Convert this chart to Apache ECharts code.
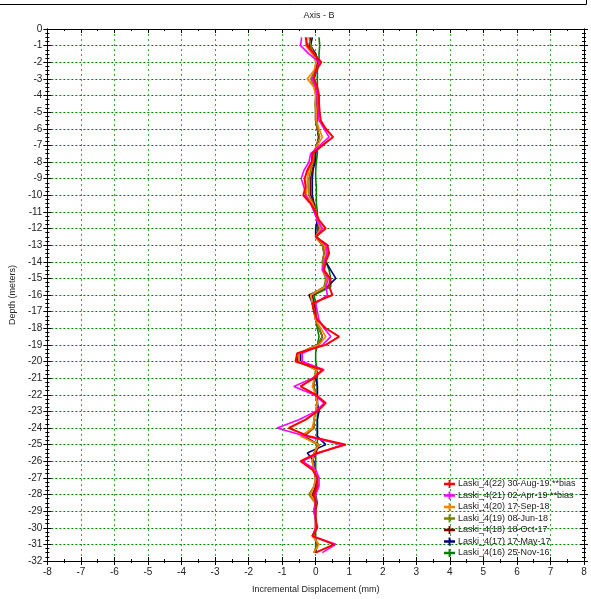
<!DOCTYPE html>
<html>
<head>
<meta charset="utf-8">
<script src="https://cdn.jsdelivr.net/npm/echarts@6/dist/echarts.min.js"></script>
<style>html,body{margin:0;padding:0;background:#fff}#c{width:591px;height:599px}</style>
</head>
<body>
<div id="c"></div>
<script>
var depths = [-0.5,-1,-1.5,-2,-2.5,-3,-3.5,-4,-4.5,-5,-5.5,-6,-6.5,-7,-7.5,-8,-8.5,-9,-9.5,-10,-10.5,-11,-11.5,-12,-12.5,-13,-13.5,-14,-14.5,-15,-15.5,-16,-16.5,-17,-17.5,-18,-18.5,-19,-19.5,-20,-20.5,-21,-21.5,-22,-22.5,-23,-23.5,-24,-24.5,-25,-25.5,-26,-26.5,-27,-27.5,-28,-28.5,-29,-29.5,-30,-30.5,-31,-31.5];

var seriesNames = ["Laski_4(22) 30-Aug-19 **bias","Laski_4(21) 02-Apr-19 **bias","Laski_4(20) 17-Sep-18","Laski_4(19) 08-Jun-18","Laski_4(18) 18-Oct-17","Laski_4(17) 17-May-17","Laski_4(16) 25-Nov-16"];
var seriesColors = ["#ff0000","#ff00ff","#ff8000","#808000","#800000","#000080","#008000"];

var s22 = [-0.3,-0.25,-0.05,0.17,0.0,-0.05,0.05,0.1,0.1,0.12,0.15,0.3,0.52,0.2,-0.1,-0.12,-0.25,-0.33,-0.3,-0.37,-0.15,0.0,0.1,0.3,0.0,0.35,0.4,0.3,0.25,0.43,0.4,0.5,-0.1,-0.05,0.05,0.3,0.7,0.3,-0.55,-0.6,0.2,-0.05,-0.45,0.0,0.3,0.05,-0.3,-0.8,-0.2,0.9,0.05,-0.45,-0.1,0.05,0.05,-0.05,0.0,0.0,0.0,0.05,-0.1,0.55,0.0];
var s21 = [-0.42,-0.45,-0.2,0.1,0.02,-0.1,0.0,0.05,0.05,0.08,0.1,0.25,0.4,0.12,-0.15,-0.2,-0.35,-0.43,-0.35,-0.3,-0.15,-0.05,0.05,0.2,0.02,0.3,0.35,0.25,0.2,0.38,0.3,0.35,0.0,0.05,0.1,0.25,0.45,0.2,-0.4,-0.4,0.25,-0.1,-0.65,-0.05,0.25,0.0,-0.5,-1.15,-0.3,0.8,0.1,-0.4,0.0,0.1,0.1,0.0,0.0,-0.05,0.0,0.0,-0.1,0.6,0.2];
var s20 = [-0.25,-0.3,-0.1,0.02,-0.05,-0.25,-0.05,0.0,0.0,0.02,0.02,0.1,0.2,0.05,-0.1,-0.1,-0.2,-0.25,-0.25,-0.28,-0.1,0.0,0.05,0.15,0.0,0.25,0.3,0.25,0.2,0.35,0.3,-0.15,-0.1,-0.05,0.0,0.15,0.3,0.1,-0.5,-0.5,0.05,-0.05,-0.1,0.0,0.05,0.0,-0.05,-0.1,-0.45,0.1,-0.05,-0.1,-0.05,0.0,-0.05,-0.15,0.0,-0.05,0.0,0.0,-0.1,0.1,-0.05];
var s19 = [-0.2,-0.15,-0.05,0.0,-0.02,-0.15,-0.05,0.0,-0.02,0.0,0.0,0.05,0.12,0.02,-0.05,-0.08,-0.15,-0.2,-0.2,-0.2,-0.08,0.0,0.05,0.12,0.0,0.2,0.25,0.2,0.2,0.3,0.25,-0.15,-0.1,-0.05,0.0,0.1,0.2,0.05,-0.5,-0.5,0.0,-0.05,-0.05,0.0,0.05,0.0,-0.05,-0.05,-0.4,0.05,-0.05,-0.1,-0.05,0.0,-0.05,-0.2,-0.02,-0.05,0.0,0.0,-0.05,0.05,-0.05];
var s18 = [-0.15,-0.2,0.0,0.05,0.0,-0.1,0.0,0.02,0.0,0.0,0.0,0.05,0.1,0.02,-0.05,-0.05,-0.1,-0.15,-0.15,-0.15,-0.05,0.0,0.05,0.1,0.0,0.2,0.25,0.2,0.25,0.35,0.3,-0.1,-0.05,0.0,0.0,0.1,0.2,0.05,-0.5,-0.55,0.05,-0.05,-0.05,0.0,0.05,0.0,-0.05,-0.05,-0.35,0.1,0.0,-0.1,-0.05,0.0,0.0,-0.1,0.0,-0.05,0.0,0.0,-0.05,0.05,-0.05];
var s17 = [-0.1,-0.15,0.0,0.08,0.02,-0.05,0.0,0.02,0.02,0.0,0.0,0.05,0.1,0.05,0.0,-0.02,-0.08,-0.1,-0.1,-0.1,-0.05,0.0,0.05,0.0,0.0,0.25,0.3,0.3,0.45,0.6,0.35,-0.2,-0.1,-0.05,0.0,0.1,0.2,0.1,-0.45,-0.45,0.05,0.0,0.05,0.05,0.05,0.1,0.05,0.05,0.05,0.3,-0.25,-0.05,-0.05,0.0,0.0,-0.05,0.0,-0.05,0.0,0.0,-0.05,0.05,0.0];
var s16 = [0.1,0.12,0.1,0.1,0.05,0.05,0.05,0.05,0.05,0.05,0.05,0.05,0.08,0.05,0.05,0.02,0.0,0.0,0.02,0.02,0.02,0.05,0.05,0.05,0.05,0.2,0.3,0.3,0.4,0.45,0.45,-0.05,0.0,0.0,0.0,0.05,0.1,0.05,0.0,0.0,0.05,0.05,0.05,0.05,0.05,0.05,0.05,0.05,0.05,0.05,0.0,0.0,0.0,0.0,0.0,0.0,0.05,0.0,0.0,0.0,0.0,0.0,0.0];

var seriesValues = [s22,s21,s20,s19,s18,s17,s16];

var font = "'Liberation Sans', Arial, sans-serif";
var chart = echarts.init(document.getElementById('c'));

var series = [];
for (var i = seriesValues.length - 1; i >= 0; i--) {
  var vals = seriesValues[i];
  var pts = [];
  for (var j = 0; j < depths.length; j++) pts.push([vals[j], depths[j]]);
  series.push({
    name: seriesNames[i],
    type: 'line',
    data: pts,
    showSymbol: false,
    symbol: 'none',
    animation: false,
    lineStyle: {color: seriesColors[i], width: i === 0 ? 2 : 1.6},
    itemStyle: {color: seriesColors[i]},
    z: 10 + (7 - i)
  });
}

function axisBase(extra) {
  var base = {
    type: 'value', min: -8, max: 8, interval: 1,
    axisLine: {show: true, onZero: false, lineStyle: {color: '#000', width: 1}},
    axisLabel: {show: false},
    splitLine: {show: false},
    axisTick: {show: true, lineStyle: {color: '#000'}},
    minorTick: {show: true, splitNumber: 2, length: 2, lineStyle: {color: '#000'}}
  };
  return Object.assign(base, extra);
}
function yBase(extra) {
  var base = {
    type: 'value', min: -32, max: 0, interval: 1,
    axisLine: {show: true, onZero: false, lineStyle: {color: '#000', width: 1}},
    axisLabel: {show: false},
    splitLine: {show: false},
    axisTick: {show: true, lineStyle: {color: '#000'}},
    minorTick: {show: true, splitNumber: 4, length: 2, lineStyle: {color: '#000'}}
  };
  return Object.assign(base, extra);
}

chart.setOption({
  animation: false,
  backgroundColor: '#fff',
  title: {
    text: 'Axis - B', left: 314, top: 6, textAlign: 'center',
    textStyle: {fontSize: 9, fontWeight: 'normal', color: '#222', fontFamily: font}
  },
  graphic: [
    {type: 'line', shape: {x1: 0, y1: 4.5, x2: 586.5, y2: 4.5}, style: {stroke: '#000', lineWidth: 1}},
    {type: 'line', shape: {x1: 586.5, y1: 0, x2: 586.5, y2: 4.5}, style: {stroke: '#000', lineWidth: 1}}
  ],
  grid: {left: 45, right: 7, top: 29, bottom: 33, containLabel: false},
  legend: {
    orient: 'vertical', left: 444, top: 479, padding: 0,
    itemWidth: 11, itemHeight: 8, itemGap: 1.5,
    symbolKeepAspect: false,
    icon: 'path://M0,3H12V5H0Z M5,1H7V7H5Z',
    data: seriesNames,
    textStyle: {fontSize: 9, color: '#222', fontFamily: font, lineHeight: 10, padding: [0,0,0,-2]},
    selectedMode: false
  },
  xAxis: [
    axisBase({
      position: 'bottom',
      name: 'Incremental Displacement (mm)', nameLocation: 'middle', nameGap: 24,
      nameTextStyle: {fontSize: 9, color: '#222', fontFamily: font},
      axisLabel: {show: true, fontSize: 10, color: '#222', fontFamily: font, margin: 6},
      axisTick: {show: true, inside: false, length: 4, lineStyle: {color: '#000'}},
      minorTick: {show: true, splitNumber: 2, length: 2, lineStyle: {color: '#000'}},
      splitLine: {show: true, lineStyle: {color: '#3aa83a', type: [2, 3], width: 1}}
    }),
    axisBase({position: 'bottom', axisTick: {show: true, inside: true, length: 4, lineStyle: {color: '#000'}},
      minorTick: {show: true, splitNumber: 2, length: 2, lineStyle: {color: '#000'}}}),
    axisBase({position: 'top', axisTick: {show: true, inside: true, length: 4, lineStyle: {color: '#000'}},
      minorTick: {show: true, splitNumber: 2, length: 2, lineStyle: {color: '#000'}}})
  ],
  yAxis: [
    yBase({
      position: 'left',
      name: 'Depth (meters)', nameLocation: 'middle', nameGap: 29, nameRotate: 90,
      nameTextStyle: {fontSize: 9, color: '#222', fontFamily: font},
      axisLabel: {show: true, fontSize: 10, color: '#222', fontFamily: font, margin: 5},
      axisTick: {show: true, inside: false, length: 4, lineStyle: {color: '#000'}},
      splitLine: {show: true, lineStyle: {color: '#008000', type: [2, 2], width: 1}}
    }),
    yBase({position: 'left', axisTick: {show: true, inside: true, length: 4, lineStyle: {color: '#000'}}}),
    yBase({position: 'right', axisTick: {show: true, inside: true, length: 4, lineStyle: {color: '#000'}}}),
    yBase({position: 'right', axisTick: {show: true, inside: false, length: 4, lineStyle: {color: '#000'}}})
  ],
  series: series
});
</script>
</body>
</html>
